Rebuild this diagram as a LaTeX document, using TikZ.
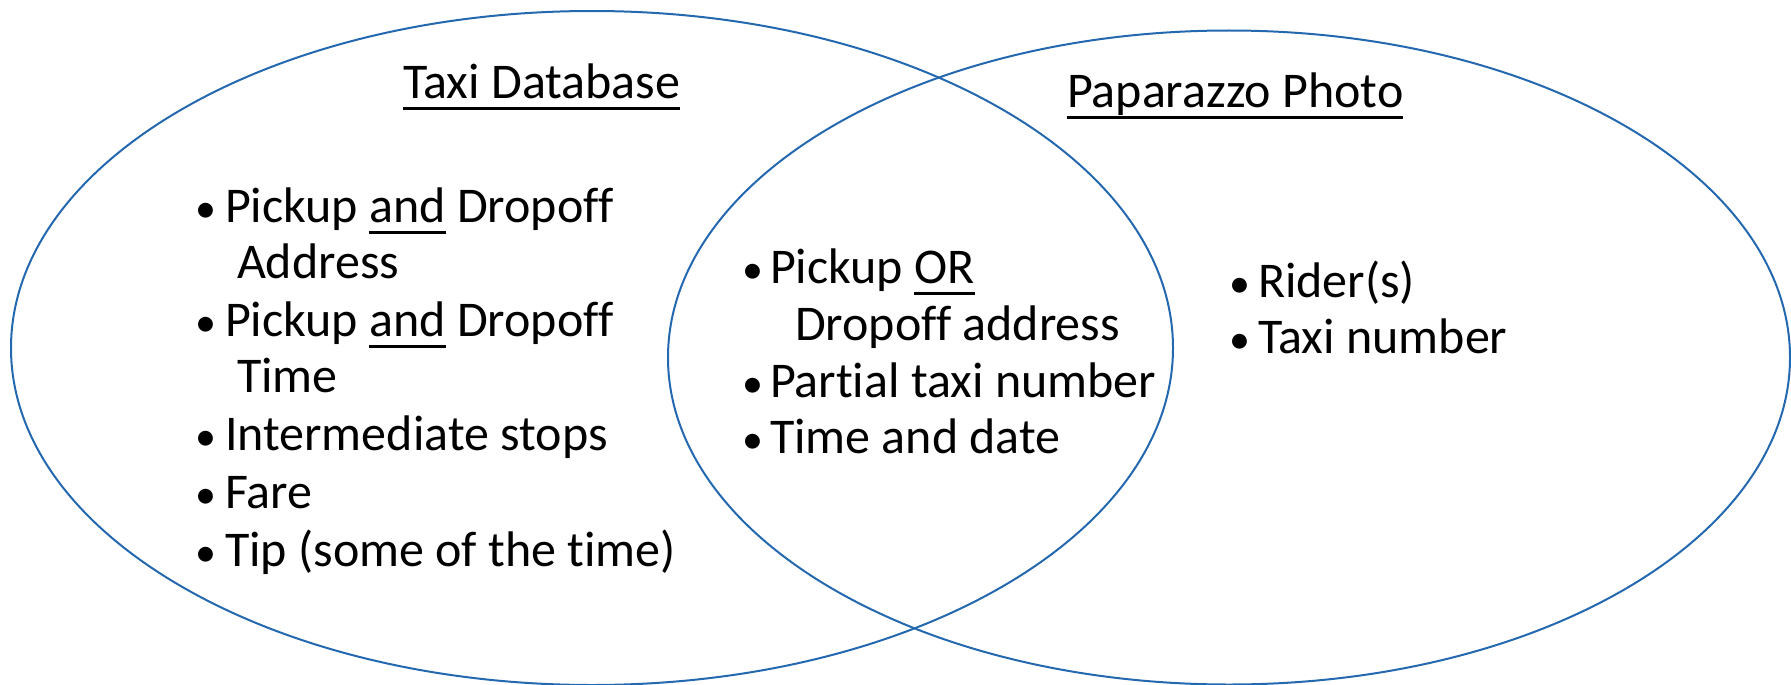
\documentclass[tikz,border=0pt]{standalone}
\usepackage{fontspec}
\setmainfont{Carlito}[Ligatures=NoCommon]
\definecolor{vennblue}{RGB}{36,104,176}
\newcommand\myul[1]{\setbox0\hbox{#1}\rlap{\rule[-0.24em]{\wd0}{0.07em}}\box0\relax}
\tikzset{
  venn/.style={draw=vennblue, line width=2pt},
  txt/.style={anchor=base west, inner sep=0pt, outer sep=0pt, font=\fontsize{50}{60}\selectfont},
  bul/.style={anchor=base, inner sep=0pt, outer sep=0pt, font=\fontsize{42}{50}\selectfont}
}
\begin{document}
\begin{tikzpicture}[x=1pt,y=-1pt]
\useasboundingbox (0,0) rectangle (1791,685);
\draw[venn] (592,348) ellipse [x radius=581, y radius=337];
\draw[venn] (1229,357.5) ellipse [x radius=561, y radius=327];
% titles
\node[txt] (t1) at (403,98) {\myul{Taxi Database}};
\node[txt] (t2) at (1067,107) {\myul{Paparazzo Photo}};
% left list
\node[bul] (lb1) at (206,222) {•};
\node[txt] (l1) at (225,222) {Pickup \myul{and} Dropoff};
\node[txt] (l1b) at (237,278) {Address};
\node[bul] (lb2) at (206,336) {•};
\node[txt] (l2) at (225,336) {Pickup \myul{and} Dropoff};
\node[txt] (l2b) at (237,392) {Time};
\node[bul] (lb3) at (206,450) {•};
\node[txt] (l3) at (225,450) {Intermediate stops};
\node[bul] (lb4) at (206,508) {•};
\node[txt] (l4) at (225,508) {Fare};
\node[bul] (lb5) at (206,566) {•};
\node[txt] (l5) at (225,566) {Tip (some of the time)};
% middle list
\node[bul] (mb1) at (753,283) {•};
\node[txt] (m1) at (770,283) {Pickup \myul{OR}};
\node[txt] (m1b) at (795,340) {Dropoff address};
\node[bul] (mb2) at (753,397) {•};
\node[txt] (m2) at (770,397) {Partial taxi number};
\node[bul] (mb3) at (753,453) {•};
\node[txt] (m3) at (770,453) {Time and date};
% right list
\node[bul] (rb1) at (1240,297) {•};
\node[txt] (r1) at (1258,297) {Rider(s)};
\node[bul] (rb2) at (1240,353) {•};
\node[txt] (r2) at (1258,353) {Taxi number};
\end{tikzpicture}
\end{document}
